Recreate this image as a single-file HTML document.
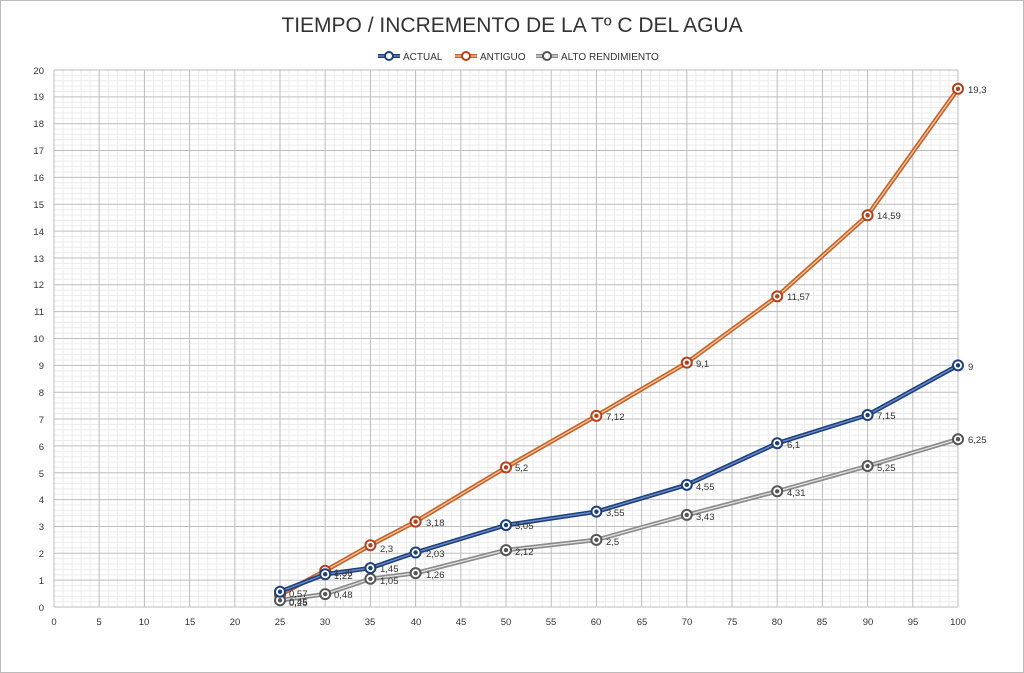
<!DOCTYPE html><html><head><meta charset="utf-8"><style>body{margin:0;background:#fff}svg{display:block;font-family:"Liberation Sans",sans-serif}</style></head><body>
<svg id="s" width="1024" height="673" xmlns="http://www.w3.org/2000/svg">
<rect x="0.5" y="0.5" width="1023" height="672" fill="#fff" stroke="#bbb"/>
<g id="grid"></g><g id="ser"></g>
<text x="512" y="32" font-size="21" text-anchor="middle" fill="#333">TIEMPO / INCREMENTO DE LA Tº C DEL AGUA</text>
<g font-size="10" fill="#333">
<line x1="378" y1="56" x2="400" y2="56" stroke="#1f3f7a" stroke-width="4"/><line x1="378" y1="56" x2="400" y2="56" stroke="#6a8fd0" stroke-width="1.2"/><circle cx="389" cy="56" r="4" fill="#fff" stroke="#1f3f7a" stroke-width="2"/><text x="403" y="60">ACTUAL</text>
<line x1="455" y1="56" x2="477" y2="56" stroke="#c5622a" stroke-width="4"/><line x1="455" y1="56" x2="477" y2="56" stroke="#f3c59a" stroke-width="1.2"/><circle cx="466" cy="56" r="4" fill="#fff" stroke="#b5401a" stroke-width="2"/><text x="480" y="60">ANTIGUO</text>
<line x1="536" y1="56" x2="558" y2="56" stroke="#8a8a8a" stroke-width="4"/><line x1="536" y1="56" x2="558" y2="56" stroke="#ddd" stroke-width="1.2"/><circle cx="547" cy="56" r="4" fill="#fff" stroke="#555" stroke-width="2"/><text x="561" y="60">ALTO RENDIMIENTO</text>
</g>
<g font-size="9.5" fill="#333" text-anchor="end">
<text x="44" y="611">0</text><text x="44" y="584">1</text><text x="44" y="557">2</text><text x="44" y="530">3</text><text x="44" y="503">4</text><text x="44" y="477">5</text><text x="44" y="450">6</text><text x="44" y="423">7</text><text x="44" y="396">8</text><text x="44" y="369">9</text><text x="44" y="342">10</text><text x="44" y="315">11</text><text x="44" y="288">12</text><text x="44" y="262">13</text><text x="44" y="235">14</text><text x="44" y="208">15</text><text x="44" y="181">16</text><text x="44" y="154">17</text><text x="44" y="127">18</text><text x="44" y="100">19</text><text x="44" y="74">20</text>
</g>
<g font-size="9.5" fill="#333" text-anchor="middle">
<text x="54" y="625">0</text><text x="99" y="625">5</text><text x="144" y="625">10</text><text x="190" y="625">15</text><text x="235" y="625">20</text><text x="280" y="625">25</text><text x="325" y="625">30</text><text x="370" y="625">35</text><text x="416" y="625">40</text><text x="461" y="625">45</text><text x="506" y="625">50</text><text x="551" y="625">55</text><text x="596" y="625">60</text><text x="642" y="625">65</text><text x="687" y="625">70</text><text x="732" y="625">75</text><text x="777" y="625">80</text><text x="822" y="625">85</text><text x="868" y="625">90</text><text x="913" y="625">95</text><text x="958" y="625">100</text>
</g>
<g id="lab" font-size="9.5" fill="#333">
<text x="289" y="597">0,57</text><text x="289" y="605">0,45</text><text x="289" y="606">0,25</text>
<text x="334" y="576">1,35</text><text x="334" y="579">1,22</text><text x="334" y="598">0,48</text>
<text x="380" y="552">2,3</text><text x="380" y="572">1,45</text><text x="380" y="584">1,05</text>
<text x="426" y="526">3,18</text><text x="426" y="557">2,03</text><text x="426" y="578">1,26</text>
<text x="515" y="471">5,2</text><text x="515" y="529">3,05</text><text x="515" y="555">2,12</text>
<text x="606" y="420">7,12</text><text x="606" y="516">3,55</text><text x="606" y="545">2,5</text>
<text x="696" y="367">9,1</text><text x="696" y="490">4,55</text><text x="696" y="520">3,43</text>
<text x="787" y="300">11,57</text><text x="787" y="448">6,1</text><text x="787" y="496">4,31</text>
<text x="877" y="219">14,59</text><text x="877" y="419">7,15</text><text x="877" y="471">5,25</text>
<text x="968" y="93">19,3</text><text x="968" y="370">9</text><text x="968" y="443">6,25</text>
</g>
</svg>
<script>
const X=v=>54+9.04*v,Y=v=>607-26.85*v,NS="http://www.w3.org/2000/svg";
function el(p,t,a){const e=document.createElementNS(NS,t);for(const k in a)e.setAttribute(k,a[k]);p.appendChild(e);return e}
const g=document.getElementById('grid');
for(let i=0;i<=100;i++){if(i%5)el(g,'line',{x1:X(i),x2:X(i),y1:Y(0),y2:Y(20),stroke:'#ececec','stroke-width':1})}
for(let j=0;j<=100;j++){if(j%5)el(g,'line',{x1:X(0),x2:X(100),y1:Y(j/5),y2:Y(j/5),stroke:'#ececec','stroke-width':1})}
for(let i=0;i<=100;i+=5)el(g,'line',{x1:X(i),x2:X(i),y1:Y(0),y2:Y(20),stroke:'#bdbdbd','stroke-width':1});
for(let j=0;j<=20;j++)el(g,'line',{x1:X(0),x2:X(100),y1:Y(j),y2:Y(j),stroke:'#bdbdbd','stroke-width':1});
const xs=[25,30,35,40,50,60,70,80,90,100];
const S=[
 {d:[0.45,1.35,2.3,3.18,5.2,7.12,9.1,11.57,14.59,19.3],o:'#c5622a',i:'#f3c59a',m:'#b5401a'},
 {d:[0.25,0.48,1.05,1.26,2.12,2.5,3.43,4.31,5.25,6.25],o:'#8a8a8a',i:'#e0e0e0',m:'#555'},
 {d:[0.57,1.22,1.45,2.03,3.05,3.55,4.55,6.1,7.15,9],o:'#1f3f7a',i:'#6a8fd0',m:'#1f3f7a'}];
const sg=document.getElementById('ser');
for(const s of S){const p=xs.map((x,k)=>X(x)+','+Y(s.d[k])).join(' ');
el(sg,'polyline',{points:p,fill:'none',stroke:s.o,'stroke-width':4.5,'stroke-linejoin':'round'});
el(sg,'polyline',{points:p,fill:'none',stroke:s.i,'stroke-width':1.3,'stroke-linejoin':'round'});
xs.forEach((x,k)=>{el(sg,'circle',{cx:X(x),cy:Y(s.d[k]),r:5,fill:'#fff',stroke:s.m,'stroke-width':2});el(sg,'circle',{cx:X(x),cy:Y(s.d[k]),r:2.2,fill:s.m})});}
</script>
</body></html>
